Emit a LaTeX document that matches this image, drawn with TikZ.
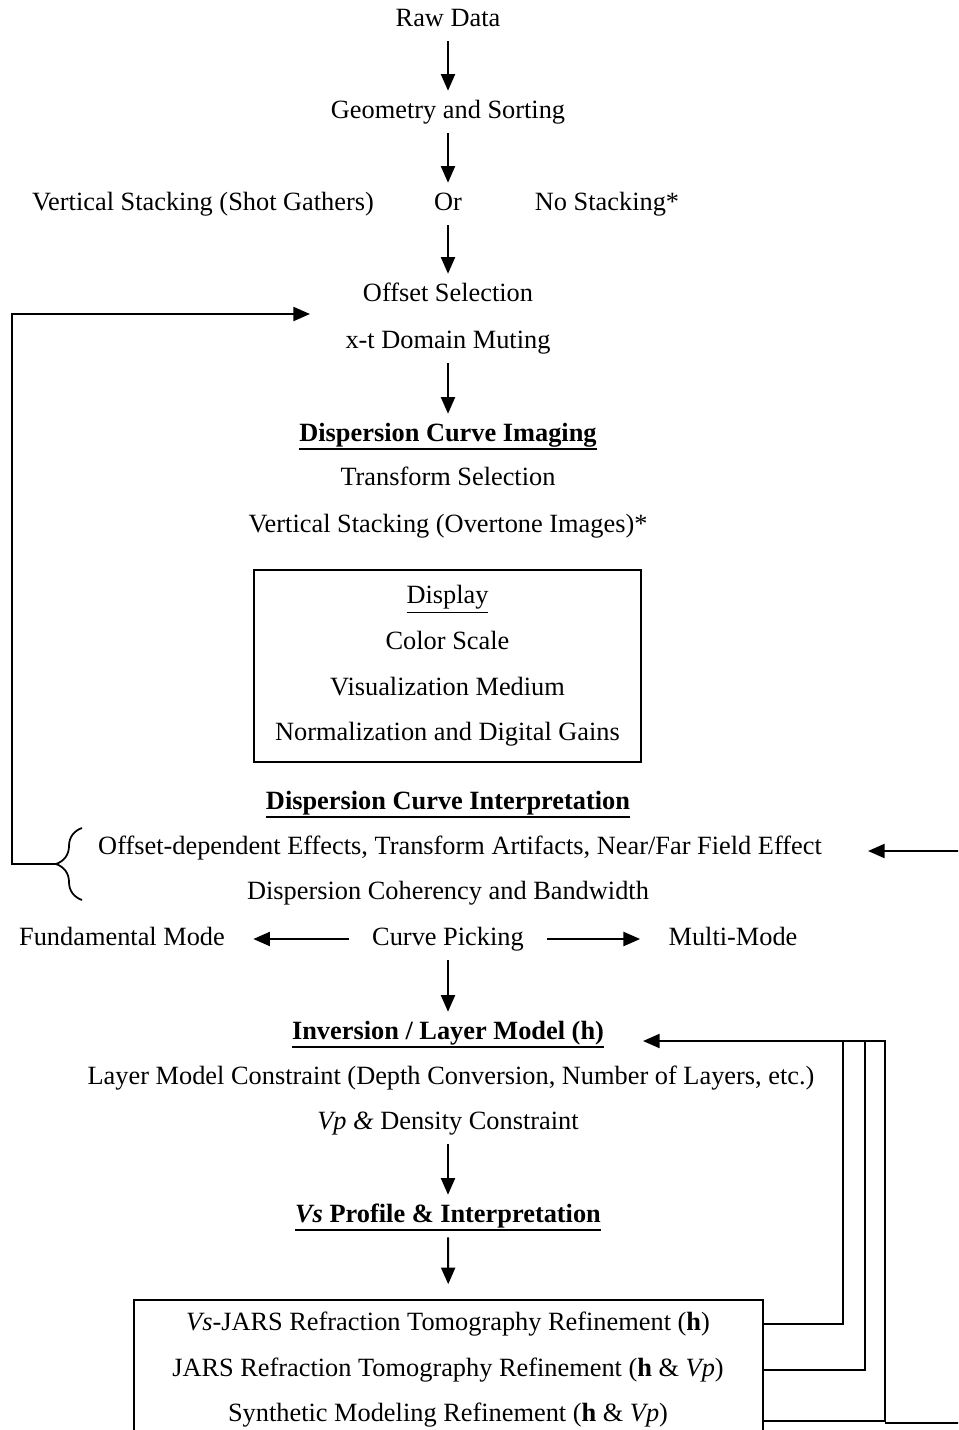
\documentclass[tikz,border=0pt]{standalone}
\usepackage{fontspec}
\setmainfont{Liberation Serif}
\usetikzlibrary{arrows.meta, decorations.pathreplacing}
\newsavebox{\hdbox}
\newcommand{\hdul}[1]{\sbox{\hdbox}{#1}\rlap{\rule[-5pt]{\wd\hdbox}{1pt}}\usebox{\hdbox}}

\begin{document}
\begin{tikzpicture}[x=0.02cm, y=-0.02cm,
    every node/.style={font=\fontsize{15}{26}\selectfont},
    lbl/.style={text height=10.5pt, text depth=3.3pt, inner sep=5pt},
    frame/.style={draw, line width=1pt},
    flow/.style={-{Triangle[length=9.5pt, width=8pt]}, line width=1.2pt},
    side/.style={shorten <=8pt, shorten >=11pt},
    link/.style={line width=1pt}]
    \useasboundingbox (0,0) rectangle (958,1430);
    \clip (0,0) rectangle (958,1430);

    \node[lbl] (raw) at (448,20) {Raw Data};
    \node[lbl] (geo) at (448,112) {Geometry and Sorting};
    \node[lbl] (vstack) at (203,204) {Vertical Stacking (Shot Gathers)};
    \node[lbl] (orr) at (448,204) {Or};
    \node[lbl] (nostack) at (607,204) {No Stacking*};
    \node[lbl] (offsel) at (448,295) {Offset Selection};
    \node[lbl] (mute) at (448,342) {x-t Domain Muting};
    \node[lbl] (dci) at (448,435) {\hdul{\textbf{Dispersion Curve Imaging}}};
    \node[lbl] (trans) at (448,479) {Transform Selection};
    \node[lbl] (vsover) at (448,526) {Vertical Stacking (Overtone Images)*};
    \node[frame, align=center, minimum width=7.74cm, minimum height=3.84cm] (dispbox) at (447.5,666)
        {\underline{Display}\\Color Scale\\Visualization Medium\\Normalization and Digital Gains};
    \node[lbl] (dcint) at (448,803) {\hdul{\textbf{Dispersion Curve Interpretation}}};
    \node[lbl] (effects) at (460,848) {Offset-dependent Effects, Transform Artifacts, Near/Far Field Effect};
    \node[lbl] (coher) at (448,893) {Dispersion Coherency and Bandwidth};
    \node[lbl] (fund) at (122,939) {Fundamental Mode};
    \node[lbl] (pick) at (448,939) {Curve Picking};
    \node[lbl] (multi) at (733,939) {Multi-Mode};
    \node[lbl] (inv) at (448,1033) {\hdul{\textbf{Inversion / Layer Model (h)}}};
    \node[lbl] (lmc) at (451,1078) {Layer Model Constraint (Depth Conversion, Number of Layers, etc.)};
    \node[lbl] (vpd) at (448,1123) {\textit{Vp \&} Density Constraint};
    \node[lbl] (vsprof) at (448,1216) {\hdul{\textbf{\textit{Vs} Profile \& Interpretation}}};
    \node[frame, minimum width=12.58cm, minimum height=2.9cm] (refbox) at (448.5,1372.5) {};
    \node[lbl] (vsjars) at (448,1324) {\textit{Vs}-JARS Refraction Tomography Refinement (\textbf{h})};
    \node[lbl] (jars) at (448,1370) {JARS Refraction Tomography Refinement (\textbf{h} \& \textit{Vp})};
    \node[lbl] (synth) at (448,1415) {Synthetic Modeling Refinement (\textbf{h} \& \textit{Vp})};

    \coordinate (bracetip) at (56,864);
    \coordinate (offin) at (310,314);
    \coordinate (invin) at (643,1041);
    \coordinate (effin) at (868,851);

    \path[flow]
        (raw) edge (geo)
        (geo) edge (orr)
        (orr) edge (offsel)
        (mute) edge (dci)
        (pick) edge[side] (fund)
        (pick) edge[side] (multi)
        (pick) edge (inv)
        (vpd) edge (vsprof)
        (vsprof) edge[shorten >=8.5pt] (refbox);

    \draw[link, decorate, decoration={brace, amplitude=0.52cm}] (82,900) -- (82,828);
    \draw[flow] (bracetip) -| (12,314) -- (offin);

    \draw[link] (refbox.east |- vsjars) -| (843,1041);
    \draw[link] (refbox.east |- jars) -| (865,1041);
    \draw[flow] (refbox.east |- synth.base) -| (885,1041) -- (invin);
    \draw[flow] (885,1423) -- (980,1423) |- (effin);
\end{tikzpicture}
\end{document}
